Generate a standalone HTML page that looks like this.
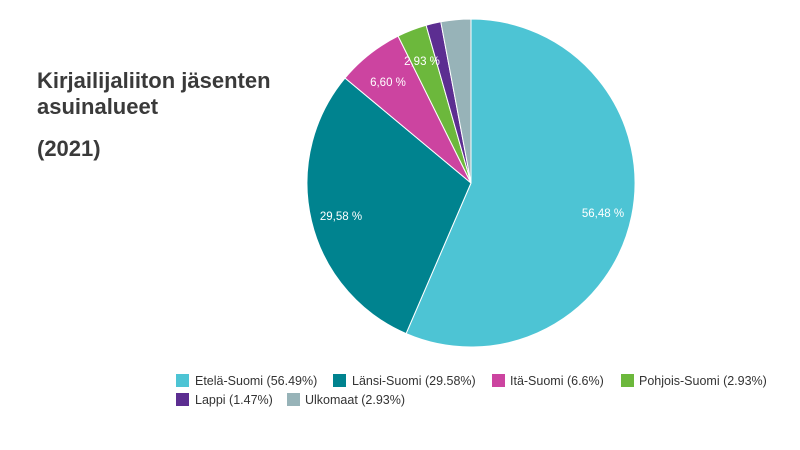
<!DOCTYPE html>
<html><head><meta charset="utf-8"><style>
body{margin:0;background:#fff;width:800px;height:450px;overflow:hidden;font-family:"Liberation Sans",sans-serif}
</style></head><body>
<svg width="800" height="450" xmlns="http://www.w3.org/2000/svg" style="position:absolute;left:0;top:0">
<g font-family="Liberation Sans, sans-serif" font-weight="bold" fill="#3a3a3a" font-size="22">
<text x="37" y="88">Kirjailijaliiton jäsenten</text>
<text x="37" y="114">asuinalueet</text>
<text x="37" y="156">(2021)</text>
</g>
<g stroke="#fff" stroke-width="1">
<path d="M471,183 L471,19 A164,164 0 1 1 406.1,333.6 Z" fill="#4dc4d4"/>
<path d="M471,183 L406.1,333.6 A164,164 0 0 1 345.0,78.0 Z" fill="#00838f"/>
<path d="M471,183 L345.0,78.0 A164,164 0 0 1 398.1,36.1 Z" fill="#cc44a0"/>
<path d="M471,183 L398.1,36.1 A164,164 0 0 1 426.1,25.3 Z" fill="#6cb83c"/>
<path d="M471,183 L426.1,25.3 A164,164 0 0 1 440.8,21.8 Z" fill="#5c2e91"/>
<path d="M471,183 L440.8,21.8 A164,164 0 0 1 471,19 Z" fill="#97b3b8"/>
</g>
<g fill="#fff" font-size="11.5" text-anchor="middle">
<text x="603" y="217">56,48 %</text>
<text x="341" y="220">29,58 %</text>
<text x="388" y="86">6,60 %</text>
<text x="422" y="65">2,93 %</text>
</g>
<g font-size="12.5" fill="#333">
<rect x="176" y="374" width="13" height="13" fill="#4dc4d4"/><text x="195" y="385">Etelä-Suomi (56.49%)</text>
<rect x="333" y="374" width="13" height="13" fill="#00838f"/><text x="352" y="385">Länsi-Suomi (29.58%)</text>
<rect x="492" y="374" width="13" height="13" fill="#cc44a0"/><text x="510" y="385">Itä-Suomi (6.6%)</text>
<rect x="621" y="374" width="13" height="13" fill="#6cb83c"/><text x="639" y="385">Pohjois-Suomi (2.93%)</text>
<rect x="176" y="393" width="13" height="13" fill="#5c2e91"/><text x="195" y="404">Lappi (1.47%)</text>
<rect x="287" y="393" width="13" height="13" fill="#97b3b8"/><text x="305" y="404">Ulkomaat (2.93%)</text>
</g>
</svg>
</body></html>
